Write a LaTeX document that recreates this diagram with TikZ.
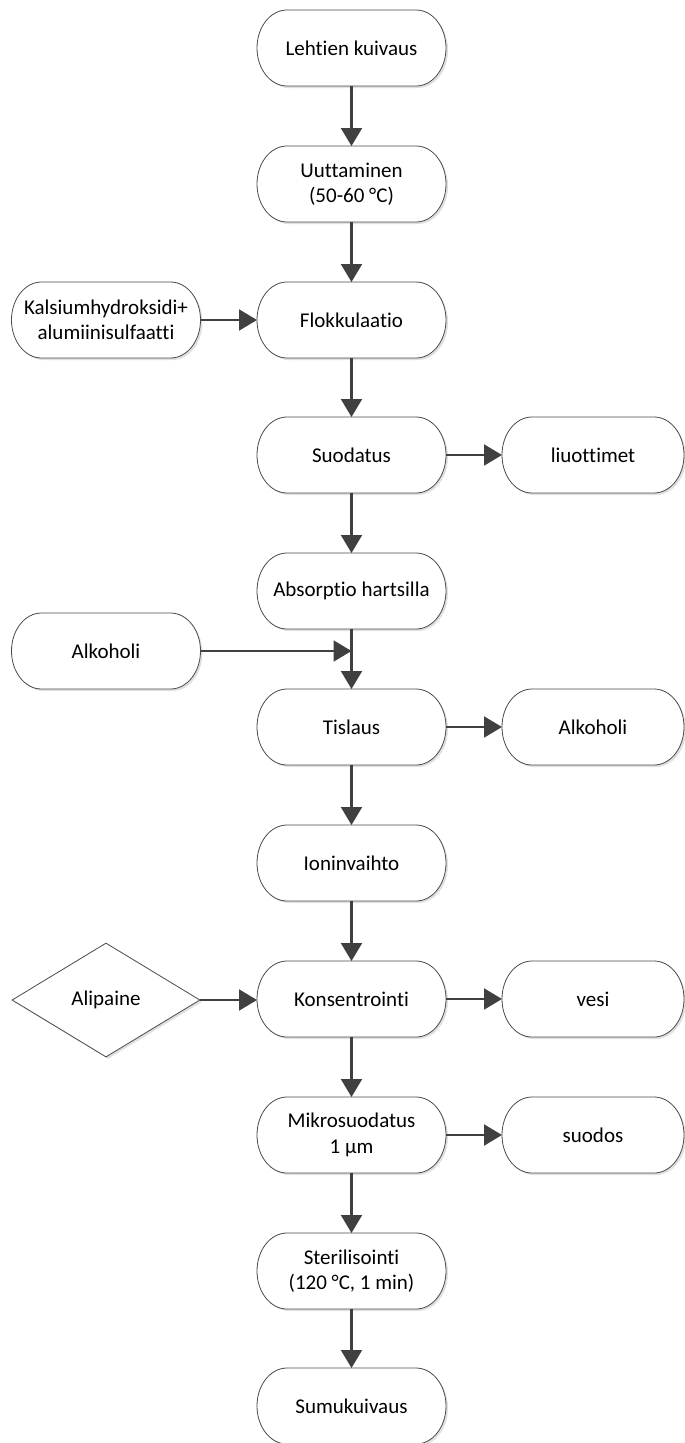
\documentclass[tikz,border=0pt]{standalone}
\usepackage{fontspec}
\setmainfont[Ligatures={NoCommon}]{Carlito}
\usetikzlibrary{arrows.meta,shapes.geometric,shadows,calc,backgrounds}
\definecolor{linecol}{HTML}{4A4A4A}
\definecolor{arrcol}{HTML}{404040}
% terminator outline with half-elliptical ends: #1 node, #2 options
\newcommand\tpath[2]{%
  \path[#2] ($(#1.north west)+(30,0)$) -- ($(#1.north east)+(-30,0)$)
    .. controls +(16.6,0) and +(0,-21) .. (#1.east)
    .. controls +(0,21) and +(16.6,0) .. ($(#1.south east)+(-30,0)$)
    -- ($(#1.south west)+(30,0)$)
    .. controls +(-16.6,0) and +(0,21) .. (#1.west)
    .. controls +(0,-21) and +(-16.6,0) .. ($(#1.north west)+(30,0)$)
    -- cycle;}
\newcommand\tshape[1]{%
  \begin{scope}[transform canvas={shift={(2pt,-2pt)}}]\tpath{#1}{fill=black!12}\end{scope}
  \tpath{#1}{fill=white, draw=linecol, line width=0.8pt}}
\begin{document}
\begin{tikzpicture}[x=1pt,y=-1pt,
  term/.style={minimum width=189pt, minimum height=76pt, align=center,
    inner sep=2pt, outer sep=0pt, font=\fontsize{21}{25.5}\selectfont},
  rterm/.style={term, minimum width=182pt},
  dia/.style={draw=linecol, line width=0.8pt, shape=diamond, aspect=1.65,
    minimum width=188pt, minimum height=114pt, inner sep=0pt, fill=white,
    font=\fontsize{21}{25.5}\selectfont,
    drop shadow={shadow xshift=2pt, shadow yshift=-2pt, fill=black!12, opacity=1}},
  arr/.style={draw=arrcol, line width=2.2pt,
    -{Triangle[length=18pt,width=21pt]}}
]
\useasboundingbox (0,0) rectangle (685,1443);

\node[term] (n1) at (351.5,48) {Lehtien kuivaus};
\node[term] (n2) at (351.5,184) {Uuttaminen\\(50-60 °C)};
\node[term] (n3) at (351.5,320) {Flokkulaatio};
\node[term] (n4) at (351.5,455) {Suodatus};
\node[term] (n5) at (351.5,591) {Absorptio hartsilla};
\node[term] (n6) at (351.5,727) {Tislaus};
\node[term] (n7) at (351.5,863) {Ioninvaihto};
\node[term] (n8) at (351.5,999) {Konsentrointi};
\node[term] (n9) at (351.5,1135) {Mikrosuodatus\\1 µm};
\node[term] (n10) at (351.5,1271) {Sterilisointi\\(120 °C, 1 min)};
\node[term] (n11) at (351.5,1406) {Sumukuivaus};

\node[term] (k) at (106,320) {Kalsiumhydroksidi+\\alumiinisulfaatti};
\node[term] (a1) at (106,651) {Alkoholi};
\node[dia] (ap) at (106,1000) {Alipaine};

\node[rterm] (l) at (593,455) {liuottimet};
\node[rterm] (a2) at (593,727) {Alkoholi};
\node[rterm] (v) at (593,999) {vesi};
\node[rterm] (s) at (593,1135) {suodos};

\begin{pgfonlayer}{background}
\foreach \nn in {n1,n2,n3,n4,n5,n6,n7,n8,n9,n10,n11,k,a1,l,a2,v,s}{\tshape{\nn}}
\end{pgfonlayer}

\coordinate (j) at (n5.south |- a1.east);

\draw[arr] (n1) -- (n2);
\draw[arr] (n2) -- (n3);
\draw[arr] (n3) -- (n4);
\draw[arr] (n4) -- (n5);
\draw[arr] (n5) -- (n6);
\draw[arr] (n6) -- (n7);
\draw[arr] (n7) -- (n8);
\draw[arr] (n8) -- (n9);
\draw[arr] (n9) -- (n10);
\draw[arr] (n10) -- (n11);

\draw[arr] (k) -- (n3);
\draw[arr] (a1.east) -- (j);
\draw[arr] (ap.east) -- (n8.west |- ap.east);

\draw[arr] (n4) -- (l);
\draw[arr] (n6) -- (a2);
\draw[arr] (n8) -- (v);
\draw[arr] (n9) -- (s);
\end{tikzpicture}
\end{document}
